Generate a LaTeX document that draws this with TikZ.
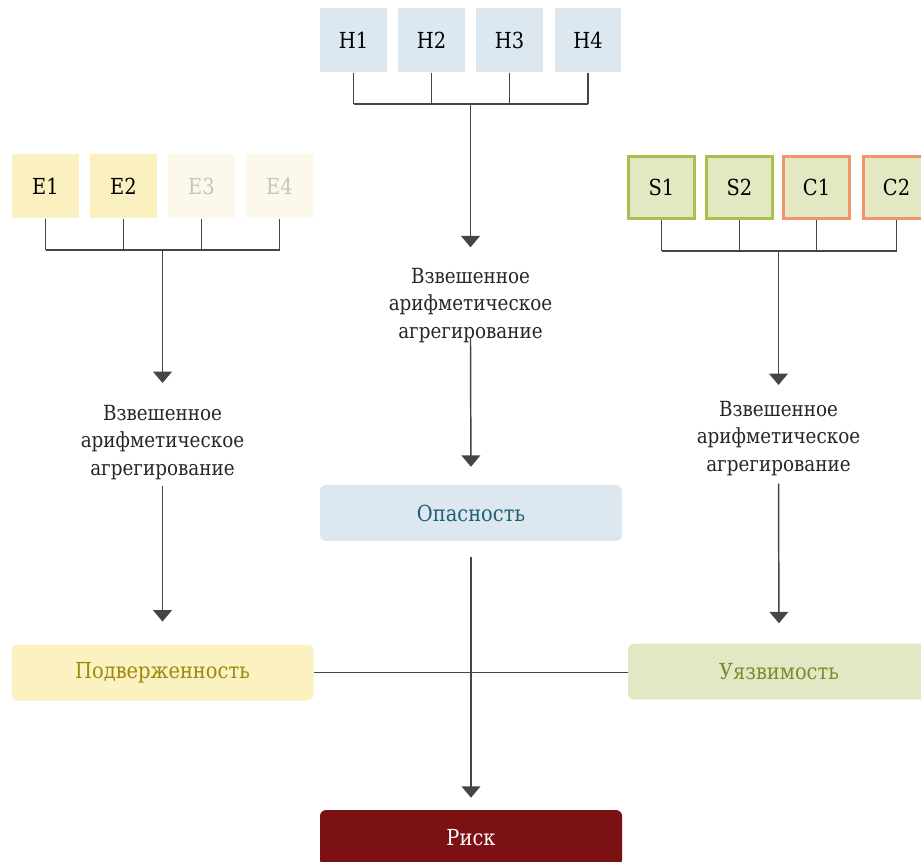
\documentclass[tikz,border=0pt]{standalone}
\usepackage{fontspec}
\setmainfont{DejaVu Serif}[Scale=0.92, FakeStretch=0.88]
\usetikzlibrary{arrows.meta}

\definecolor{wirec}{HTML}{454545}
\definecolor{hfill}{HTML}{DDE7EF}
\definecolor{efill}{HTML}{FAF0C0}
\definecolor{epale}{HTML}{FDF9EA}
\definecolor{epaletext}{HTML}{C9C5B6}
\definecolor{sfill}{HTML}{E3E8C3}
\definecolor{sline}{HTML}{A9C04F}
\definecolor{cline}{HTML}{EE956A}
\definecolor{opastext}{HTML}{1E6075}
\definecolor{podvfill}{HTML}{FBF1C1}
\definecolor{podvtext}{HTML}{9C8A0C}
\definecolor{uyazfill}{HTML}{E2E8C3}
\definecolor{uyaztext}{HTML}{7B8C2E}
\definecolor{riskfill}{HTML}{7B1113}

\begin{document}
\begin{tikzpicture}[x=0.75pt,y=-0.75pt,
  sq/.style={minimum width=50pt, minimum height=48.5pt, inner sep=0pt, font=\fontsize{18pt}{21pt}\selectfont},
  sqline/.style={sq, minimum width=49.5pt, minimum height=46.5pt, line width=2.2pt, fill=sfill},
  big/.style={rounded corners=4.5pt, minimum width=226.5pt, minimum height=42pt, inner sep=0pt, font=\fontsize{18pt}{21pt}\selectfont},
  agg/.style={align=center, inner sep=0pt, anchor=north, text=black!85, font=\fontsize{17pt}{20.5pt}\selectfont},
  wire/.style={draw=wirec, line width=1.1pt},
  flow/.style={wire, -{Triangle[width=14pt,length=8.5pt]}}]
\useasboundingbox (0,0) rectangle (921,862);

% hazard indicators
\node[sq, fill=hfill] (h1) at (353.5,40){H1};
\node[sq, fill=hfill] (h2) at (431.5,40){H2};
\node[sq, fill=hfill] (h3) at (509.5,40){H3};
\node[sq, fill=hfill] (h4) at (588,40){H4};
\coordinate (hbus) at (470.5,104);
\foreach \n in {h1,h2,h3,h4}
  \draw[wire](\n.south) -- (\n.south |- hbus);
\draw[wire](h1.south |- hbus) -- (h4.south |- hbus);

% exposure indicators
\node[sq, fill=efill] (e1) at (45.5,186){E1};
\node[sq, fill=efill] (e2) at (123.5,186){E2};
\node[sq, fill=epale, text=epaletext] (e3) at (201.5,186){E3};
\node[sq, fill=epale, text=epaletext] (e4) at (279.5,186){E4};
\coordinate (ebus) at (162.5,250);
\foreach \n in {e1,e2,e3,e4}
  \draw[wire](\n.south) -- (\n.south |- ebus);
\draw[wire](e1.south |- ebus) -- (e4.south |- ebus);

% susceptibility and coping capacity indicators
\node[sqline, draw=sline] (s1) at (661.5,187.5){S1};
\node[sqline, draw=sline] (s2) at (739.5,187.5){S2};
\node[sqline, draw=cline] (c1) at (816.5,187.5){C1};
\node[sqline, draw=cline] (c2) at (896.5,187.5){C2};
\coordinate (sbus) at (778.5,251);
\foreach \n in {s1,s2,c1,c2}
  \draw[wire](\n.south) -- (\n.south |- sbus);
\draw[wire](s1.south |- sbus) -- (c2.south |- sbus);

% aggregation steps
\node[agg] (hagg) at (470.5,268){Взвешенное\\арифметическое\\агрегирование};
\node[agg] (eagg) at (162.5,405){Взвешенное\\арифметическое\\агрегирование};
\node[agg] (sagg) at (778.5,401){Взвешенное\\арифметическое\\агрегирование};

% components
\node[big, fill=hfill, text=opastext] (opas) at (471,513){Опасность};
\node[big, fill=podvfill, text=podvtext] (podv) at (162.5,672.5){Подверженность};
\node[big, fill=uyazfill, text=uyaztext] (uyaz) at (779,671.5){Уязвимость};
\node[big, fill=riskfill, text=white] (risk) at (471,838){Риск};

\draw[flow, shorten >=15.5pt](hbus) -- (hagg.north);
\draw[flow, shorten >=16.5pt](ebus) -- (eagg.north);
\draw[flow, shorten >=12pt](sbus) -- (sagg.north);

\draw[flow, shorten <=-4pt, shorten >=13.5pt](hagg.south) -- (opas.north);
\draw[flow, shorten <=4.5pt, shorten >=17pt](eagg.south) -- (podv.north);
\draw[flow, shorten <=6pt, shorten >=15pt](sagg.south) -- (uyaz.north);

\draw[wire](podv.east) -- (podv.east -| uyaz.west);
\draw[flow, shorten <=12pt, shorten >=9pt](opas.south) -- (risk.north);
\end{tikzpicture}
\end{document}
